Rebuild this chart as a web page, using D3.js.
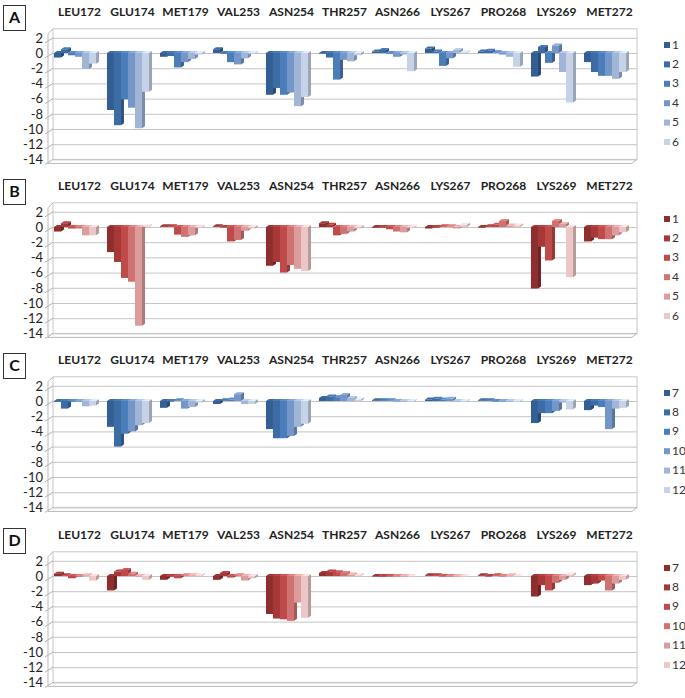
<!DOCTYPE html>
<html>
<head>
<meta charset="utf-8">
<script src="https://cdn.jsdelivr.net/npm/d3@7"></script>
<style>
  html, body { margin: 0; padding: 0; background: #fff; }
  svg { display: block; }
  text { font-family: Lato, "Open Sans", sans-serif; }
</style>
</head>
<body>
<script>
const categories = ["LEU172","GLU174","MET179","VAL253","ASN254","THR257","ASN266","LYS267","PRO268","LYS269","MET272"];
const seriesAB = ["1","2","3","4","5","6"];
const seriesCD = ["7","8","9","10","11","12"];
const yTicks = [2,0,-2,-4,-6,-8,-10,-12,-14];
const panelLabels = ["A","B","C","D"];

// values per category (rows), one entry per series (columns)
const valuesA = [
  [-0.6, 0.5, -0.3, -0.5, -2.1, -1.4],
  [-7.5, -9.5, -6.1, -7.2, -9.9, -5.1],
  [-0.5, -0.4, -1.9, -1.2, -0.8, -0.2],
  [0.5, -0.1, -1.2, -1.5, -0.7, -0.1],
  [-5.5, -4.6, -5.5, -5.2, -7.0, -5.8],
  [-0.1, -0.6, -3.5, -0.9, -1.1, -0.3],
  [0.2, 0.4, -0.1, -0.5, -0.2, -2.4],
  [0.6, 0.2, -1.7, -0.7, 0.4, 0.1],
  [0.2, 0.3, 0.1, -0.2, -0.5, -1.8],
  [-3.1, 0.8, -1.3, 1.0, -2.5, -6.5],
  [-1.2, -2.5, -3.0, -3.0, -3.4, -2.5]
];
const valuesB = [
  [-0.6, 0.5, -0.2, -0.2, -1.1, -1.1],
  [-3.3, -4.6, -6.7, -7.2, -13.0, 0.1],
  [0.1, 0.1, -1.0, -1.3, -1.1, -0.1],
  [0.1, 0.0, -1.9, -1.7, -0.5, -0.2],
  [-5.1, -4.6, -6.0, -5.0, -5.5, -5.8],
  [0.5, 0.3, -1.1, -0.9, -0.6, -0.2],
  [-0.1, -0.1, -0.3, -0.6, -0.7, -0.1],
  [-0.2, -0.1, 0.1, 0.1, -0.2, 0.3],
  [-0.1, 0.1, 0.3, 0.8, 0.2, 0.2],
  [-8.1, -2.6, -4.4, 0.8, 0.4, -6.6],
  [-1.9, -1.4, -1.6, -1.6, -1.1, -0.7]
];
const valuesC = [
  [-0.1, -1.0, -0.1, -0.1, -0.7, -0.6],
  [-3.4, -6.0, -4.3, -4.0, -3.2, -2.9],
  [-0.9, 0.0, 0.1, -1.0, -0.8, -0.2],
  [-0.4, 0.1, 0.2, 0.9, -0.4, -0.4],
  [-3.7, -4.9, -4.9, -4.6, -3.4, -3.0],
  [0.4, 0.6, 0.5, 0.8, 0.4, 0.2],
  [0.1, 0.1, 0.1, 0.0, -0.1, -0.1],
  [0.2, 0.3, 0.2, 0.3, -0.1, -0.1],
  [0.1, 0.1, 0.0, 0.0, -0.1, -0.1],
  [-2.9, -1.6, -1.6, -1.3, -0.2, -1.1],
  [-1.2, -0.6, -0.8, -3.7, -1.0, -0.9]
];
const valuesD = [
  [0.3, 0.1, -0.3, -0.1, 0.1, -0.6],
  [-1.9, 0.6, 0.8, 0.3, -0.1, -0.5],
  [-0.5, -0.1, -0.3, 0.1, 0.1, 0.1],
  [-0.5, 0.4, -0.2, 0.1, -0.6, -0.3],
  [-5.0, -5.6, -5.7, -5.9, -3.5, -5.5],
  [0.4, 0.6, 0.5, 0.4, 0.2, 0.1],
  [0.0, -0.1, 0.0, 0.0, -0.1, 0.0],
  [0.1, 0.1, 0.0, 0.0, 0.0, 0.0],
  [0.1, 0.0, 0.1, 0.0, 0.1, 0.0],
  [-2.7, -1.2, -1.9, -0.9, -0.5, 0.2],
  [-1.2, -1.0, -0.6, -1.9, -1.0, -0.5]
];

const bluePalette = ["#335f94", "#3d6ca5", "#4c7dbb", "#7596c8", "#a1b5d6", "#c6d2e7"];
const redPalette  = ["#8e2e2e", "#a83838", "#bf4a4a", "#cf7272", "#dd9c9c", "#ebc7c7"];

const panels = [
  { label: panelLabels[0], values: valuesA, series: seriesAB, colors: bluePalette, off: 0 },
  { label: panelLabels[1], values: valuesB, series: seriesAB, colors: redPalette, off: 174 },
  { label: panelLabels[2], values: valuesC, series: seriesCD, colors: bluePalette, off: 348 },
  { label: panelLabels[3], values: valuesD, series: seriesCD, colors: redPalette, off: 523 }
];

const W = 685, H = 698;
const svg = d3.select("body").append("svg").attr("width", W).attr("height", H);

const dx = 3, dy = 2;        // bar depth
const wallL = 53, wallR = 637; // back wall
const fx = -5, fy = 4;        // front offset of axis relative to wall

panels.forEach(p => {
  const g = svg.append("g");
  const y = d3.scaleLinear().domain([-14, 2]).range([159.4 + p.off, 37.8 + p.off]);
  const x0 = d3.scaleBand().domain(categories).range([50, 633]).paddingInner(0.15).paddingOuter(0.075);
  const x1 = d3.scaleBand().domain(d3.range(p.series.length)).range([0, x0.bandwidth() - dx]);

  const wallTop = y(2) - 9, wallBot = y(-14);
  // back wall
  g.append("rect").attr("x", wallL).attr("y", wallTop).attr("width", wallR - wallL)
    .attr("height", wallBot - wallTop).attr("fill", "#fff").attr("stroke", "#c8c8c8").attr("stroke-width", 1);
  // gridlines
  g.selectAll(".grid").data(yTicks).join("line")
    .attr("x1", wallL).attr("x2", wallR)
    .attr("y1", d => y(d) + 0.5).attr("y2", d => y(d) + 0.5)
    .attr("stroke", "#c4c4c4").attr("stroke-width", 1);
  // left side slant ticks
  g.selectAll(".tk").data(yTicks).join("line")
    .attr("x1", wallL + fx - 3).attr("y1", d => y(d) + fy + 1)
    .attr("x2", wallL).attr("y2", d => y(d))
    .attr("stroke", "#b0b0b0").attr("stroke-width", 1);
  // front axis line
  g.append("line").attr("x1", wallL + fx).attr("x2", wallL + fx)
    .attr("y1", wallTop + fy + 1).attr("y2", wallBot + fy)
    .attr("stroke", "#b8b8b8");
  g.append("line").attr("x1", wallL + fx).attr("y1", wallTop + fy + 1).attr("x2", wallL).attr("y2", wallTop)
    .attr("stroke", "#b8b8b8");
  // floor front edge
  g.append("line").attr("x1", wallL + fx).attr("x2", wallR + fx)
    .attr("y1", wallBot + fy).attr("y2", wallBot + fy).attr("stroke", "#b8b8b8");
  g.append("line").attr("x1", wallR + fx).attr("y1", wallBot + fy).attr("x2", wallR).attr("y2", wallBot)
    .attr("stroke", "#b8b8b8");

  // y tick labels
  g.selectAll(".yl").data(yTicks).join("text")
    .attr("x", 43).attr("y", d => y(d) + 1.5)
    .attr("text-anchor", "end").attr("dominant-baseline", "middle")
    .attr("font-size", 13).attr("fill", "#222")
    .text(d => d);

  // category labels
  g.selectAll(".cl").data(categories).join("text")
    .attr("x", d => x0(d) + x0.bandwidth() / 2 + 3).attr("y", p.off + 13)
    .attr("text-anchor", "middle").attr("dominant-baseline", "middle")
    .attr("font-size", 12).attr("font-weight", 700).attr("fill", "#222")
    .text(d => d);

  // bars
  const y0 = y(0);
  categories.forEach((c, ci) => {
    p.values[ci].forEach((v, si) => {
      const xl = x0(c) + x1(si), bw = x1.bandwidth();
      const yv = y(v);
      const col = d3.color(p.colors[si]);
      const side = col.darker(0.7).formatHex();
      const topc = col.brighter(0.35).formatHex();
      const yTopFace = v >= 0 ? yv : y0;
      // side face
      g.append("polygon")
        .attr("points", [[xl + bw, y0], [xl + bw + dx, y0 - dy], [xl + bw + dx, yv - dy], [xl + bw, yv]].map(q => q.join(",")).join(" "))
        .attr("fill", side);
      // front face
      g.append("rect").attr("x", xl).attr("width", bw)
        .attr("y", Math.min(yv, y0)).attr("height", Math.max(Math.abs(yv - y0), 0.6))
        .attr("fill", p.colors[si]);
      // top face
      g.append("polygon")
        .attr("points", [[xl, yTopFace], [xl + dx, yTopFace - dy], [xl + bw + dx, yTopFace - dy], [xl + bw, yTopFace]].map(q => q.join(",")).join(" "))
        .attr("fill", topc);
    });
  });

  // legend
  const lg = g.append("g");
  p.series.forEach((s, i) => {
    const cy = p.off + 45 + i * 19.4;
    lg.append("rect").attr("x", 664).attr("y", cy - 3).attr("width", 6).attr("height", 6).attr("fill", p.colors[i]);
    lg.append("text").attr("x", 672).attr("y", cy + 0.5).attr("dominant-baseline", "middle")
      .attr("font-size", 12).attr("fill", "#333").text(s);
  });

  // panel label box
  g.append("rect").attr("x", 3.5).attr("y", p.off + 5.5).attr("width", 22).attr("height", 25)
    .attr("fill", "#fff").attr("stroke", "#333").attr("stroke-width", 1);
  g.append("text").attr("x", 14.5).attr("y", p.off + 18.5)
    .attr("text-anchor", "middle").attr("dominant-baseline", "middle")
    .attr("font-size", 16).attr("font-weight", 700).attr("fill", "#111").text(p.label);
});
</script>
</body>
</html>
